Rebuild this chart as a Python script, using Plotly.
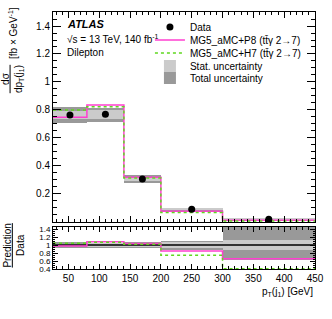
import plotly.graph_objects as go

# ---- data ----
bin_edges = [25, 80, 140, 200, 300, 450]
data_vals = [0.764, 0.770, 0.307, 0.090, 0.019]
p8_vals = [0.748, 0.836, 0.319, 0.0765, 0.0125]
h7_vals = [0.800, 0.824, 0.314, 0.067, 0.0077]
stat_rel = [0.036, 0.040, 0.040, 0.080, 0.130]
tot_up_rel = [0.073, 0.055, 0.085, 0.110, 0.500]
tot_dn_rel = [0.077, 0.075, 0.085, 0.120, 0.380]
main_yticks = [0.2, 0.4, 0.6, 0.8, 1.0, 1.2, 1.4]
ratio_yticks = [0.4, 0.6, 0.8, 1.0, 1.2, 1.4]
xticks = [50, 100, 150, 200, 250, 300, 350, 400, 450]

centers = [(a + b) / 2 for a, b in zip(bin_edges[:-1], bin_edges[1:])]
widths = [b - a for a, b in zip(bin_edges[:-1], bin_edges[1:])]

FONT = "Liberation Sans, Arial, sans-serif"
MAG = "#ff3fd0"
GRN = "#5fd81f"
STATC = "#cbcbcb"
TOTC = "#999999"


def step(vals):
    return list(bin_edges), list(vals) + [vals[-1]]


fig = go.Figure()

# main panel bands
tot_lo = [d * (1 - r) for d, r in zip(data_vals, tot_dn_rel)]
tot_hi = [d * (1 + r) for d, r in zip(data_vals, tot_up_rel)]
st_lo = [d * (1 - r) for d, r in zip(data_vals, stat_rel)]
st_hi = [d * (1 + r) for d, r in zip(data_vals, stat_rel)]

fig.add_trace(go.Bar(x=centers, width=widths, base=tot_lo,
                     y=[h - l for h, l in zip(tot_hi, tot_lo)],
                     marker=dict(color=TOTC, line=dict(width=0)),
                     name="Total uncertainty", legend="legend5",
                     xaxis="x", yaxis="y"))
fig.add_trace(go.Bar(x=centers, width=widths, base=st_lo,
                     y=[h - l for h, l in zip(st_hi, st_lo)],
                     marker=dict(color=STATC, line=dict(width=0)),
                     name="Stat. uncertainty", legend="legend4",
                     xaxis="x", yaxis="y"))

sx, sy = step(p8_vals)
fig.add_trace(go.Scatter(x=sx, y=sy, mode="lines", line_shape="hv",
                         line=dict(color=MAG, width=1.5),
                         name="MG5_aMC+P8 (tt\u0304γ 2→7)", legend="legend2",
                         xaxis="x", yaxis="y"))
sx, sy = step(h7_vals)
fig.add_trace(go.Scatter(x=sx, y=sy, mode="lines", line_shape="hv",
                         line=dict(color=GRN, width=1.5, dash="dot"),
                         name="MG5_aMC+H7 (tt\u0304γ 2→7)", legend="legend3",
                         xaxis="x", yaxis="y"))
fig.add_trace(go.Scatter(x=centers, y=data_vals, mode="markers",
                         marker=dict(color="black", size=7),
                         name="Data", legend="legend",
                         xaxis="x", yaxis="y"))

# ratio panel
r_tot_lo = [1 - r for r in tot_dn_rel]
r_tot_hi = [1 + r for r in tot_up_rel]
r_st_lo = [1 - r for r in stat_rel]
r_st_hi = [1 + r for r in stat_rel]
fig.add_trace(go.Bar(x=centers, width=widths, base=r_tot_lo,
                     y=[h - l for h, l in zip(r_tot_hi, r_tot_lo)],
                     marker=dict(color=TOTC, line=dict(width=0)),
                     showlegend=False, xaxis="x2", yaxis="y2"))
fig.add_trace(go.Bar(x=centers, width=widths, base=r_st_lo,
                     y=[h - l for h, l in zip(r_st_hi, r_st_lo)],
                     marker=dict(color=STATC, line=dict(width=0)),
                     showlegend=False, xaxis="x2", yaxis="y2"))
fig.add_trace(go.Scatter(x=[bin_edges[0], bin_edges[-1]], y=[1, 1], mode="lines",
                         line=dict(color="black", width=1.5),
                         showlegend=False, xaxis="x2", yaxis="y2"))
sx, sy = step([p / d for p, d in zip(p8_vals, data_vals)])
fig.add_trace(go.Scatter(x=sx, y=sy, mode="lines", line_shape="hv",
                         line=dict(color=MAG, width=1.5),
                         showlegend=False, xaxis="x2", yaxis="y2", cliponaxis=True))
sx, sy = step([h / d for h, d in zip(h7_vals, data_vals)])
fig.add_trace(go.Scatter(x=sx, y=sy, mode="lines", line_shape="hv",
                         line=dict(color=GRN, width=1.5, dash="dot"),
                         showlegend=False, xaxis="x2", yaxis="y2", cliponaxis=True))

axis_common = dict(showline=True, linecolor="black", linewidth=1, mirror="allticks",
                   ticks="inside", tickcolor="black", showgrid=False, zeroline=False,
                   automargin=False,
                   tickfont=dict(family=FONT, size=10, color="black"))

leg_common = dict(x=0.37, xanchor="left", yanchor="middle",
                  bgcolor="rgba(0,0,0,0)", font=dict(family=FONT, size=10, color="black"),
                  tracegroupgap=0, itemwidth=30, borderwidth=0)

fig.update_layout(
    width=332, height=319,
    margin=dict(l=53, r=17, t=12, b=50),
    paper_bgcolor="white", plot_bgcolor="white",
    barmode="overlay", bargap=0,
    font=dict(family=FONT, size=10, color="black"),
    xaxis=dict(domain=[0, 1], range=[25, 450], anchor="y", showticklabels=False,
               tickvals=xticks, ticklen=6,
               minor=dict(ticks="inside", dtick=10, tick0=0, ticklen=3, tickcolor="black"),
               **axis_common),
    yaxis=dict(domain=[0.183, 1], range=[0, 1.5], anchor="x",
               tickvals=main_yticks, ticktext=["0.2", "0.4", "0.6", "0.8", "1", "1.2", "1.4"],
               ticklen=8,
               minor=dict(ticks="inside", dtick=0.05, tick0=0, ticklen=4, tickcolor="black"),
               **axis_common),
    xaxis2=dict(domain=[0, 1], range=[25, 450], anchor="y2",
                tickvals=xticks, ticklen=5,
                minor=dict(ticks="inside", dtick=10, tick0=0, ticklen=3, tickcolor="black"),
                **axis_common),
    yaxis2=dict(domain=[0, 0.163], range=[0.4, 1.45], anchor="x2",
                tickvals=ratio_yticks, ticktext=["0.4", "0.6", "0.8", "1", "1.2", "1.4"],
                ticklen=5,
                minor=dict(ticks="inside", dtick=0.05, tick0=0, ticklen=2, tickcolor="black"),
                **{**axis_common, "tickfont": dict(family=FONT, size=8, color="black")}),
    legend=dict(y=0.942, **leg_common),
    legend2=dict(y=0.891, **leg_common),
    legend3=dict(y=0.840, **leg_common),
    legend4=dict(y=0.790, **leg_common),
    legend5=dict(y=0.743, **leg_common),
    showlegend=True,
)

ann = [
    dict(text="<b><i>ATLAS</i></b>", x=0.045, y=0.952, xanchor="left", yanchor="middle",
         font=dict(size=11)),
    dict(text="√s = 13 TeV, 140 fb<sup>-1</sup>", x=0.045, y=0.893, xanchor="left",
         yanchor="middle", font=dict(size=10)),
    dict(text="Dilepton", x=0.045, y=0.843, xanchor="left", yanchor="middle",
         font=dict(size=10)),
    dict(text="<u>\u00a0\u00a0\u00a0dσ\u00a0\u00a0\u00a0</u><br>dp<sub>T</sub>(j<sub>1</sub>)",
         x=-0.155, y=0.74, xanchor="center", yanchor="middle", textangle=-90,
         font=dict(size=10)),
    dict(text="[fb × GeV<sup>-1</sup>]", x=-0.155, y=0.92, xanchor="center",
         yanchor="middle", textangle=-90, font=dict(size=10)),
    dict(text="<u>Prediction</u><br>Data", x=-0.15, y=0.09, xanchor="center",
         yanchor="middle", textangle=-90, font=dict(size=10)),
    dict(text="p<sub>T</sub>(j<sub>1</sub>) [GeV]", x=1.0, y=-0.09, xanchor="right",
         yanchor="middle", font=dict(size=10)),
]
for a in ann:
    a.update(xref="paper", yref="paper", showarrow=False)
    a["font"] = dict(family=FONT, color="black", **a["font"])
fig.update_layout(annotations=ann)

fig.write_html("out.html", config={"displayModeBar": False},
               post_script="document.body.style.margin='0';")
